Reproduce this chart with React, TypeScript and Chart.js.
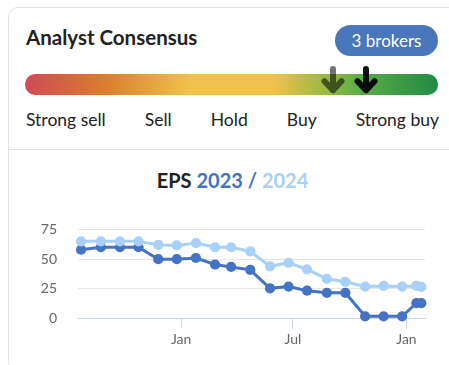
import React, { useEffect, useRef } from "react";
import { Chart, registerables } from "chart.js";

Chart.register(...registerables);

// ---- data ----
const ratingLabels = ["Strong sell", "Sell", "Hold", "Buy", "Strong buy"];
const brokerCount = 3;
// consensus scores on a 1 (strong sell) .. 5 (strong buy) scale
const consensusScores = [3.98, 4.3];
const consensusColors = ["rgba(0,0,0,0.55)", "rgba(0,0,0,0.92)"];

const dates = [
  "2022-07-23", "2022-08-24", "2022-09-24", "2022-10-24", "2022-11-25",
  "2022-12-25", "2023-01-25", "2023-02-25", "2023-03-23", "2023-04-23",
  "2023-05-25", "2023-06-24", "2023-07-24", "2023-08-25", "2023-09-24",
  "2023-10-26", "2023-11-25", "2023-12-25", "2024-01-17", "2024-01-25",
];
const eps2023 = [58, 60, 60, 60, 50, 50, 51, 45.5, 43.5, 41, 25.5, 27, 23.5, 21.7, 21.7, 2, 2, 2, 13, 13];
const eps2024 = [65, 65, 65, 65, 62, 61.5, 63.5, 60, 60, 56.5, 44, 47, 41.5, 33.5, 31, 27, 27.5, 27, 27.5, 26.8];

const xTickDates = ["2023-01-01", "2023-07-01", "2024-01-01"];
const xTickLabels = ["Jan", "Jul", "Jan"];
const xRange = ["2022-07-18", "2024-01-31"];
const yTicks = [0, 25, 50, 75];

const DARK = "#4472c4";
const LIGHT = "#a8d0fa";
const FONT = "Lato, 'Noto Sans', sans-serif";

const EPOCH = Date.parse("2023-01-01");
const toDay = (s: string) => (Date.parse(s) - EPOCH) / 86400000;

function EpsChart() {
  const ref = useRef<HTMLCanvasElement | null>(null);
  useEffect(() => {
    if (!ref.current) return;
    const tickFont = { family: FONT, size: 14 };
    const chart = new Chart(ref.current, {
      type: "line",
      data: {
        datasets: [
          {
            label: "2024",
            data: dates.map((d, i) => ({ x: toDay(d), y: eps2024[i] })),
            borderColor: LIGHT,
            backgroundColor: LIGHT,
            borderWidth: 3,
            pointRadius: 5.1,
            pointBorderWidth: 0,
            pointHoverRadius: 5.1,
            tension: 0,
            clip: false,
          },
          {
            label: "2023",
            data: dates.map((d, i) => ({ x: toDay(d), y: eps2023[i] })),
            borderColor: DARK,
            backgroundColor: DARK,
            borderWidth: 3,
            pointRadius: 5.1,
            pointBorderWidth: 0,
            pointHoverRadius: 5.1,
            tension: 0,
            clip: false,
          },
        ],
      },
      options: {
        animation: false,
        responsive: false,
        maintainAspectRatio: false,
        events: [],
        layout: { padding: { left: 0, right: 24, top: 16.7, bottom: 0 } },
        plugins: {
          legend: { display: false },
          tooltip: { enabled: false },
          title: { display: false },
        },
        scales: {
          x: {
            type: "linear",
            min: toDay(xRange[0]),
            max: toDay(xRange[1]),
            afterBuildTicks: (s: any) => {
              s.ticks = xTickDates.map((d) => ({ value: toDay(d) }));
            },
            ticks: {
              callback: (_v: any, i: number) => xTickLabels[i],
              font: tickFont,
              color: "#666666",
              padding: 2,
              maxRotation: 0,
              autoSkip: false,
            },
            grid: {
              drawOnChartArea: false,
              drawTicks: true,
              tickLength: 10,
              color: "#ccd6eb",
            },
            border: { display: true, color: "#ccd6eb" },
            afterFit: (s: any) => {
              s.height = 46.3;
            },
          },
          y: {
            min: 0,
            max: 75,
            afterBuildTicks: (s: any) => {
              s.ticks = yTicks.map((v) => ({ value: v }));
            },
            ticks: {
              callback: (v: any) => String(v),
              font: tickFont,
              color: "#666666",
              padding: 21,
            },
            grid: {
              drawTicks: false,
              color: (ctx: any) => (ctx.tick && ctx.tick.value === 0 ? "#ccd6eb" : "#e6e6e6"),
            },
            border: { display: false },
            afterFit: (s: any) => {
              s.width = 78;
            },
          },
        },
      },
    } as any);
    return () => chart.destroy();
  }, []);
  return (
    <canvas
      ref={ref}
      width={449}
      height={165}
      style={{ position: "absolute", left: 0, top: 200, width: 449, height: 165 }}
    />
  );
}

function Arrow({ score, color }: { score: number; color: string }) {
  const barLeft = 25;
  const barWidth = 413;
  const cx = barLeft + ((score - 1) / 4) * barWidth;
  return (
    <svg
      width={26}
      height={34}
      style={{ position: "absolute", left: cx - 13, top: 63, overflow: "visible" }}
    >
      <path
        d="M13 6 V27.3 M4.5 18.3 L13 27.3 L21.5 18.3"
        fill="none"
        stroke={color}
        strokeWidth={6}
        strokeLinecap="round"
        strokeLinejoin="round"
      />
    </svg>
  );
}

export default function App() {
  return (
    <div
      style={{
        position: "absolute",
        left: 0,
        top: 0,
        width: 449,
        height: 365,
        overflow: "hidden",
        background: "#ffffff",
        fontFamily: FONT,
        color: "#222222",
      }}
    >
      <div
        style={{
          position: "absolute",
          left: 8,
          top: 7,
          width: 470,
          height: 364,
          border: "1px solid #e2e2e2",
          borderRadius: 10,
          boxSizing: "border-box",
        }}
      />
      <div
        style={{
          position: "absolute",
          left: 9,
          top: 149,
          width: 460,
          height: 1,
          background: "#e2e2e2",
        }}
      />
      <div
        style={{
          position: "absolute",
          left: 26,
          top: 24.8,
          fontSize: 20.5,
          fontWeight: 700,
          lineHeight: "normal",
          whiteSpace: "nowrap",
          color: "#222",
        }}
      >
        Analyst Consensus
      </div>
      <div
        style={{
          position: "absolute",
          left: 335,
          top: 25,
          width: 103,
          height: 31,
          borderRadius: 16,
          background: "#4a76bb",
          color: "#ffffff",
          fontSize: 17,
          display: "flex",
          alignItems: "center",
          justifyContent: "center",
          whiteSpace: "nowrap",
        }}
      >
        {brokerCount} brokers
      </div>
      <div
        style={{
          position: "absolute",
          left: 25,
          top: 74,
          width: 413,
          height: 20.5,
          borderRadius: 10.25,
          background:
            "linear-gradient(to right, #cf4a57 0%, #d87a2e 18%, #f0c24b 40%, #f0c24b 60%, #92b743 74%, #5aad47 81%, #228a44 100%)",
        }}
      />
      {consensusScores.map((s, i) => (
        <Arrow key={i} score={s} color={consensusColors[i]} />
      ))}
      <div
        style={{
          position: "absolute",
          left: 26,
          top: 109.4,
          width: 413,
          display: "flex",
          justifyContent: "space-between",
          fontSize: 17.5,
          lineHeight: "normal",
          whiteSpace: "nowrap",
          color: "#222",
        }}
      >
        {ratingLabels.map((l) => (
          <span key={l}>{l}</span>
        ))}
      </div>
      <div
        style={{
          position: "absolute",
          left: 232.5,
          top: 167.6,
          transform: "translateX(-50%)",
          fontSize: 20,
          fontWeight: 700,
          lineHeight: "normal",
          whiteSpace: "nowrap",
        }}
      >
        <span style={{ color: "#222" }}>EPS </span>
        <span style={{ color: DARK }}>2023 / </span>
        <span style={{ color: LIGHT }}>2024</span>
      </div>
      <EpsChart />
    </div>
  );
}
